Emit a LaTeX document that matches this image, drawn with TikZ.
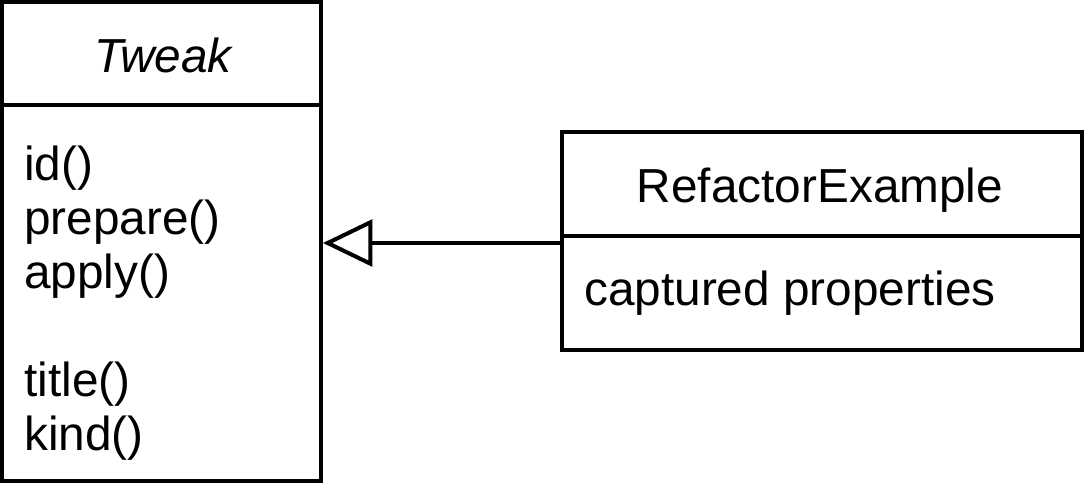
\documentclass[tikz,border=0pt]{standalone}
\usepackage{fontspec}
\setmainfont{Liberation Sans}
\usetikzlibrary{arrows.meta}
\begin{document}
\begin{tikzpicture}[x=0.75pt,y=-0.75pt,
  box/.style={draw=black,line width=3pt,fill=white},
  txt/.style={inner sep=0pt,font=\fontsize{35.8}{40}\selectfont},
  inherit/.style={line width=3pt,-{Triangle[open,length=37pt,width=35pt,line width=3pt]}}]
\useasboundingbox (0,0) rectangle (1084,496);
% Tweak class
\draw[box] (2,2) rectangle (321,481);
\draw[line width=3pt] (2,105) -- (321,105);
\node[anchor=east,inner sep=0pt] (tweak) at (321,243) {};
\node[txt,anchor=base] (tname) at (163,72) {\itshape Tweak};
\node[txt,anchor=base west] (m1) at (24,180) {id()};
\node[txt,anchor=base west] (m2) at (24,234) {prepare()};
\node[txt,anchor=base west] (m3) at (24,288) {apply()};
\node[txt,anchor=base west] (m4) at (24,396) {title()};
\node[txt,anchor=base west] (m5) at (24,450) {kind()};
% RefactorExample class
\draw[box] (562,132) rectangle (1082,350);
\draw[line width=3pt] (562,236) -- (1082,236);
\node[anchor=west,inner sep=0pt] (refex) at (562,243) {};
\node[txt,anchor=base] (rname) at (820,202) {RefactorExample};
\node[txt,anchor=base west] (p1) at (584,305) {captured properties};
% inheritance
\coordinate (tip) at (323,243);
\draw[inherit] (refex.west) -- (tip);
\end{tikzpicture}
\end{document}
